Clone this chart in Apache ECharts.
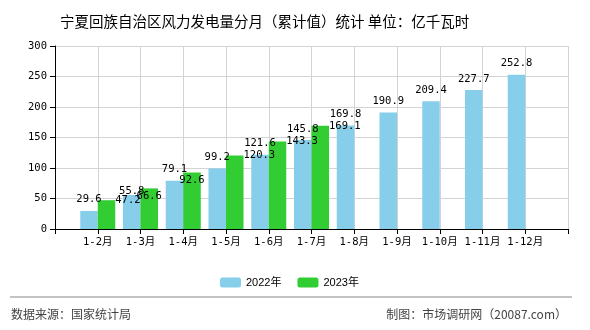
<!DOCTYPE html>
<html><head><meta charset="utf-8">
<script src="https://cdn.jsdelivr.net/npm/echarts@6/dist/echarts.min.js"></script>
<style>html,body{margin:0;padding:0;background:#fff}#c{width:590px;height:330px}</style>
</head><body><div id="c"></div>
<script>
const titleText = '宁夏回族自治区风力发电量分月（累计值）统计 单位：亿千瓦时';
const categories = ['1-2月','1-3月','1-4月','1-5月','1-6月','1-7月','1-8月','1-9月','1-10月','1-11月','1-12月'];
const seriesNames = ['2022年','2023年'];
const values2022 = [29.6, 55.8, 79.1, 99.2, 121.6, 145.8, 169.8, 190.9, 209.4, 227.7, 252.8];
const values2023 = [47.2, 66.6, 92.6, 120.3, 143.3, 169.1];
const yTicks = {min: 0, max: 300, interval: 50};
const sourceText = '数据来源：国家统计局';
const creditText = '制图：市场调研网（20087.com）';

// label placement tweaks (style only)
const labelOverrides2022 = {1: {position: 'top', distance: -2}};
const labelOverrides2023 = {
  1: {position: 'insideTop', distance: 3, align: 'center', verticalAlign: 'top'},
  2: {position: 'insideTop', distance: 3, align: 'center', verticalAlign: 'top'}
};

const monoFont = '"DejaVu Sans Mono", "Noto Sans CJK SC", monospace';
const axisCats = [''].concat(categories, ['']);
function pad(arr, overrides) {
  const out = [null];
  for (let i = 0; i < categories.length; i++) {
    if (i < arr.length) {
      const item = {value: arr[i]};
      if (overrides[i]) item.label = overrides[i];
      out.push(item);
    } else out.push(null);
  }
  out.push(null);
  return out;
}

const chart = echarts.init(document.getElementById('c'));
chart.setOption({
  animation: false,
  backgroundColor: '#fff',
  title: {text: titleText, left: 55, top: 9,
    textStyle: {fontSize: 14.5, fontWeight: 'normal', color: '#000', fontFamily: '"Noto Sans CJK SC", sans-serif'}},
  legend: {data: seriesNames, left: 215, top: 272, itemWidth: 21, itemHeight: 10, itemGap: 16,
    textStyle: {fontSize: 11, color: '#000', fontFamily: '"Liberation Sans", "Noto Sans CJK SC", sans-serif'}},
  grid: {left: 55, right: 22, top: 46, bottom: 101, containLabel: false},
  xAxis: {type: 'category', data: axisCats, boundaryGap: false,
    axisLine: {lineStyle: {color: '#000', width: 1}},
    axisTick: {show: true, length: 5, lineStyle: {color: '#000'}},
    axisLabel: {interval: 0, margin: 8, color: '#000', fontSize: 10.5, fontFamily: monoFont},
    splitLine: {show: true, lineStyle: {color: '#d3d3d3', width: 1}}},
  yAxis: {type: 'value', min: yTicks.min, max: yTicks.max, interval: yTicks.interval,
    axisLine: {show: true, lineStyle: {color: '#000', width: 1}},
    axisTick: {show: true, length: 5, lineStyle: {color: '#000'}},
    axisLabel: {margin: 8, color: '#000', fontSize: 10.5, fontFamily: monoFont},
    splitLine: {show: true, lineStyle: {color: '#d3d3d3', width: 1}}},
  series: [
    {name: seriesNames[0], type: 'bar', data: pad(values2022, labelOverrides2022), barWidth: 17.5, barGap: '0%',
      itemStyle: {color: '#87CEEB'},
      label: {show: true, position: 'top', distance: 6, color: '#000', fontSize: 10.5, fontFamily: monoFont}},
    {name: seriesNames[1], type: 'bar', data: pad(values2023, labelOverrides2023), barWidth: 17.5, barGap: '0%',
      itemStyle: {color: '#32CD32'},
      label: {show: true, position: ['100%', 0], align: 'left', verticalAlign: 'middle', color: '#000', fontSize: 10.5, fontFamily: monoFont}}
  ],
  graphic: [
    {type: 'line', shape: {x1: 10, y1: 297, x2: 572, y2: 297}, style: {stroke: '#888', lineWidth: 1}},
    {type: 'text', left: 11, top: 308, style: {text: sourceText, fontSize: 12, fill: '#444', fontFamily: '"Noto Sans CJK SC", sans-serif'}},
    {type: 'text', right: 23, top: 308, style: {text: creditText, fontSize: 12, fill: '#444', fontFamily: '"Noto Sans CJK SC", sans-serif'}}
  ]
});
</script></body></html>
